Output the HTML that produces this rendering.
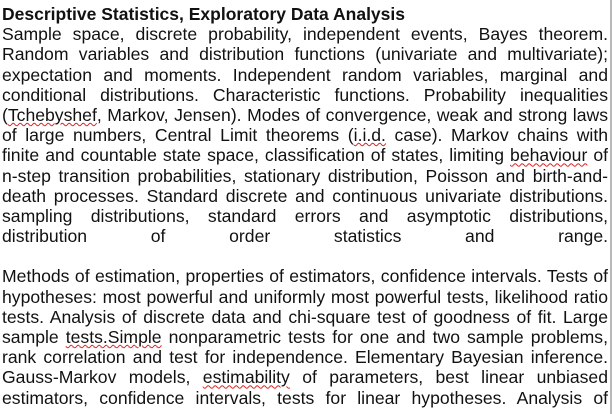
<!DOCTYPE html>
<html><head><meta charset="utf-8"><style>
html,body{margin:0;padding:0;background:#fff;}
body{width:612px;height:414px;overflow:hidden;position:relative;font-family:"Liberation Sans",Arial,sans-serif;color:#111;}
#doc{position:absolute;left:2px;top:4px;width:606px;}
.l{font-size:17.6px;line-height:20.2px;height:20.2px;text-align:justify;text-align-last:justify;white-space:nowrap;overflow:visible;}
.t{font-size:17.5px;font-weight:bold;line-height:20.2px;height:20.2px;white-space:nowrap;}
.sp{height:20.2px;}
.w{text-decoration:underline wavy #e02020;text-decoration-thickness:1px;text-underline-offset:1px;}
#rule{position:absolute;left:610px;top:0;width:2px;height:414px;background:#b8b8b8;}
</style></head><body>
<div id="doc">
<div class="t">Descriptive Statistics, Exploratory Data Analysis</div>
<div>
<div class="l">Sample space, discrete probability, independent events, Bayes theorem.</div>
<div class="l">Random variables and distribution functions (univariate and multivariate);</div>
<div class="l">expectation and moments. Independent random variables, marginal and</div>
<div class="l">conditional distributions. Characteristic functions. Probability inequalities</div>
<div class="l">(<span class="w">Tchebyshef</span>, Markov, Jensen). Modes of convergence, weak and strong laws</div>
<div class="l">of large numbers, Central Limit theorems (<span class="w">i.i.d.</span> case). Markov chains with</div>
<div class="l">finite and countable state space, classification of states, limiting <span class="w">behaviour</span> of</div>
<div class="l">n-step transition probabilities, stationary distribution, Poisson and birth-and-</div>
<div class="l">death processes. Standard discrete and continuous univariate distributions.</div>
<div class="l">sampling distributions, standard errors and asymptotic distributions,</div>
<div class="l">distribution of order statistics and range.</div>
</div>
<div class="sp"></div>
<div>
<div class="l">Methods of estimation, properties of estimators, confidence intervals. Tests of</div>
<div class="l">hypotheses: most powerful and uniformly most powerful tests, likelihood ratio</div>
<div class="l">tests. Analysis of discrete data and chi-square test of goodness of fit. Large</div>
<div class="l">sample <span class="w">tests.Simple</span> nonparametric tests for one and two sample problems,</div>
<div class="l">rank correlation and test for independence. Elementary Bayesian inference.</div>
<div class="l">Gauss-Markov models, <span class="w">estimability</span> of parameters, best linear unbiased</div>
<div class="l">estimators, confidence intervals, tests for linear hypotheses. Analysis of</div>
</div>
</div>
<div id="rule"></div>
</body></html>
